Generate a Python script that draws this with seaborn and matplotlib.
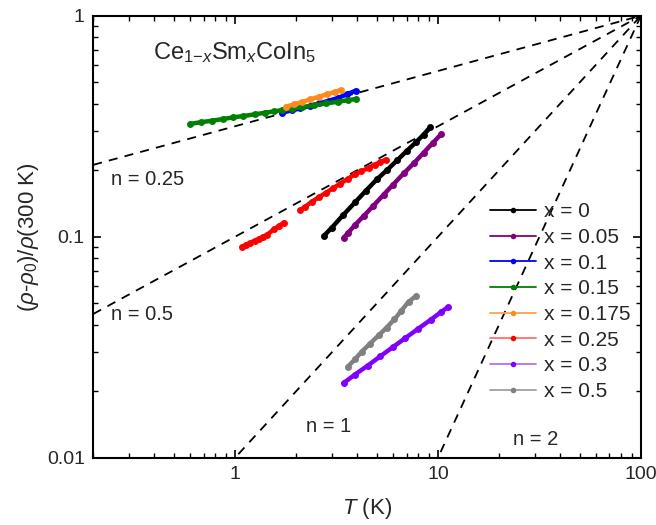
import numpy as np
import pandas as pd
import seaborn as sns
import matplotlib.pyplot as plt
from matplotlib.lines import Line2D

sns.set_style('ticks')
plt.rcParams['font.family'] = ['Liberation Sans', 'DejaVu Sans']
plt.rcParams['mathtext.fontset'] = 'custom'
plt.rcParams['mathtext.rm'] = 'Liberation Sans'
plt.rcParams['mathtext.it'] = 'Liberation Sans:italic'

# --- data (T in K, normalised resistivity) ---
T_0 = [2.74, 3.0, 3.4, 3.9, 4.4, 5.0, 5.6, 6.3, 7.0, 7.8, 8.5, 9.18]
r_0 = [0.101, 0.110, 0.125, 0.143, 0.161, 0.182, 0.200, 0.222, 0.244, 0.268, 0.290, 0.314]

T_005 = [3.43, 3.6, 3.9, 4.3, 4.8, 5.4, 6.0, 6.8, 7.6, 8.5, 9.4, 10.4]
r_005 = [0.099, 0.104, 0.113, 0.124, 0.138, 0.155, 0.172, 0.194, 0.215, 0.240, 0.265, 0.292]

T_01 = [1.70, 1.9, 2.1, 2.35, 2.6, 2.9, 3.2, 3.55, 3.93]
r_01 = [0.364, 0.373, 0.381, 0.391, 0.401, 0.413, 0.424, 0.441, 0.458]

T_015 = [0.60, 0.68, 0.77, 0.87, 0.98, 1.1, 1.25, 1.4, 1.55, 1.7, 1.9, 2.15, 2.45, 2.8, 3.2, 3.6, 3.95]
r_015 = [0.324, 0.330, 0.335, 0.341, 0.347, 0.352, 0.358, 0.364, 0.369, 0.374, 0.380, 0.386, 0.393, 0.401, 0.408, 0.415, 0.420]

T_0175 = [1.78, 1.95, 2.15, 2.35, 2.6, 2.85, 3.1, 3.32]
r_0175 = [0.388, 0.397, 0.408, 0.418, 0.431, 0.442, 0.452, 0.462]

# red curve has a gap between ~1.75 K and ~2.1 K
T_025a = [1.08, 1.13, 1.19, 1.25, 1.31, 1.37, 1.44, 1.55, 1.65, 1.74]
r_025a = [0.090, 0.092, 0.094, 0.096, 0.098, 0.100, 0.102, 0.108, 0.112, 0.116]
T_025b = [2.09, 2.2, 2.39, 2.59, 2.8, 3.05, 3.3, 3.6, 3.9, 4.2, 4.55, 4.9, 5.2, 5.52]
r_025b = [0.132, 0.136, 0.144, 0.151, 0.158, 0.166, 0.174, 0.183, 0.192, 0.198, 0.205, 0.212, 0.218, 0.223]

T_03 = [3.43, 3.9, 4.5, 5.2, 6.0, 6.9, 8.0, 9.2, 10.3, 11.25]
r_03 = [0.0218, 0.0238, 0.0261, 0.0288, 0.0317, 0.0348, 0.0384, 0.0421, 0.0455, 0.0482]

T_05 = [3.59, 3.9, 4.21, 4.6, 5.1, 5.58, 6.1, 6.6, 7.16, 7.83]
r_05 = [0.0258, 0.0279, 0.0302, 0.0327, 0.0358, 0.0388, 0.0423, 0.0463, 0.0508, 0.0541]

labels = ['x = 0', 'x = 0.05', 'x = 0.1', 'x = 0.15', 'x = 0.175', 'x = 0.25', 'x = 0.3', 'x = 0.5']
colors = ['black', '#800080', '#0000FF', '#008000', '#FF8C1A', '#FF0000', '#8000FF', '#808080']
line_colors = ['black', '#800080', '#0000FF', '#008000', '#FFA050', '#FF7070', '#B070FF', '#A0A0A0']

segments = [
    (labels[0], T_0, r_0), (labels[1], T_005, r_005), (labels[2], T_01, r_01),
    (labels[3], T_015, r_015), (labels[4], T_0175, r_0175),
    (labels[5], T_025a, r_025a), (labels[5], T_025b, r_025b),
    (labels[6], T_03, r_03), (labels[7], T_05, r_05),
]
rows = []
for i, (lab, Ts, rs) in enumerate(segments):
    for t, r in zip(Ts, rs):
        rows.append({'T': t, 'rho': r, 'x': lab, 'seg': i})
df = pd.DataFrame(rows)

n_values = [0.25, 0.5, 1, 2]
n_labels = ['n = 0.25', 'n = 0.5', 'n = 1', 'n = 2']

pos = [0.142, 0.128, 0.835, 0.842]
fig = plt.figure(figsize=(6.56, 5.25), dpi=100)
ax = fig.add_axes(pos)

# power-law guides through (100 K, 1)
Tg = np.logspace(np.log10(0.2), 2, 200)
for n in n_values:
    sns.lineplot(x=Tg, y=(Tg / 100.0) ** n, ax=ax, color='black', lw=1.3,
                 linestyle=(0, (5, 4)), legend=False)

sns.lineplot(data=df, x='T', y='rho', hue='x', units='seg', estimator=None, sort=False,
             palette=dict(zip(labels, colors)), hue_order=labels, marker='o',
             markersize=5, markeredgewidth=0, lw=3.2, legend=False, ax=ax)

x_minor = [m * 10.0 ** e for e in (-1, 0, 1) for m in range(2, 10) if m * 10.0 ** e >= 0.2]
y_minor = [m * 10.0 ** e for e in (-2, -1) for m in range(2, 10)]

ax.set_xscale('log')
ax.set_yscale('log')
ax.set_xlim(0.2, 100)
ax.set_ylim(0.01, 1)
ax.set_xticks([1, 10, 100], ['1', '10', '100'])
ax.set_yticks([0.01, 0.1, 1], ['0.01', '0.1', '1'])
ax.tick_params(which='both', direction='in', top=True, right=True, labelsize=14,
               color='black')
ax.tick_params(which='major', length=6, width=1.2, pad=6)
for s in ax.spines.values():
    s.set_linewidth(1.5)
    s.set_color('black')

# overlay axes whose (major) ticks act as the short intermediate ticks
ax2 = fig.add_axes(pos, label='minor_ticks')
ax2.patch.set_visible(False)
for s in ax2.spines.values():
    s.set_visible(False)
ax2.set_xscale('log')
ax2.set_yscale('log')
ax2.set_xlim(0.2, 100)
ax2.set_ylim(0.01, 1)
ax2.set_xticks(x_minor, [''] * len(x_minor))
ax2.set_yticks(y_minor, [''] * len(y_minor))
ax2.minorticks_off()
ax2.tick_params(which='major', direction='in', top=True, right=True, bottom=True, left=True,
                labelbottom=False, labelleft=False, length=3.5, width=1.0, color='black')
ax2.set_navigate(False)

ax.set_xlabel(r'$T$ (K)', fontsize=16, labelpad=9)
ax.set_ylabel(r'($\rho$-$\rho_0$)/$\rho$(300 K)', fontsize=16, labelpad=4)

ax.text(0.11, 0.945, r'Ce$_{1\mathrm{-}\mathit{x}}$Sm$_{\mathit{x}}$CoIn$_5$', transform=ax.transAxes,
        fontsize=17, va='top')
n_pos = [(0.245, 0.181), (0.245, 0.0444), (2.25, 0.0138), (23.5, 0.0121)]
for (tx, ty), lab in zip(n_pos, n_labels):
    ax.text(tx, ty, lab, fontsize=14.5, va='center')

handles = [Line2D([], [], color=lc, lw=1.3, marker='o', markersize=4,
                  markerfacecolor=c, markeredgewidth=0)
           for c, lc in zip(colors, line_colors)]
ax.legend(handles, labels, loc='upper left', bbox_to_anchor=(0.71, 0.597), frameon=False,
          fontsize=15, handlelength=2.2, labelspacing=0.32, handletextpad=0.35,
          borderaxespad=0)

fig.savefig('out.png', dpi=100)
